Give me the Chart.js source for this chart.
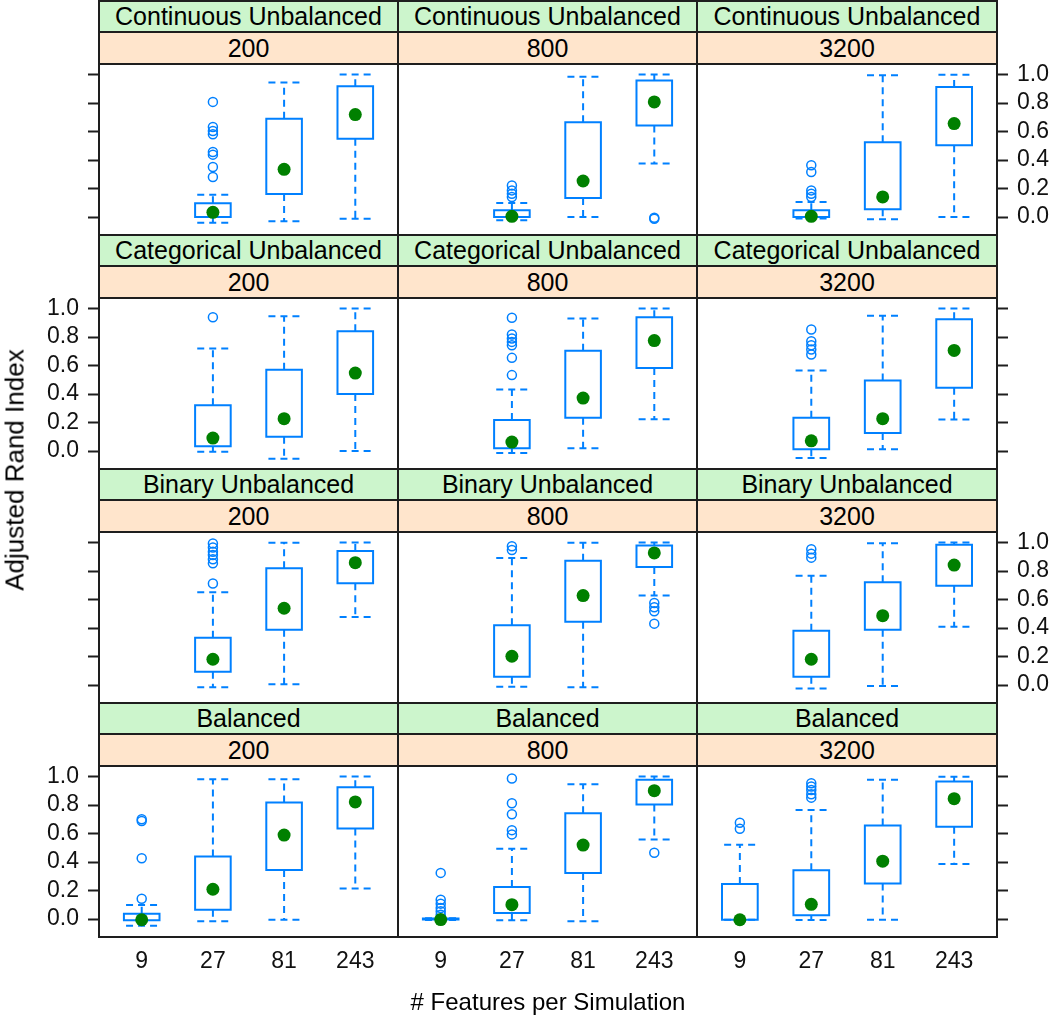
<!DOCTYPE html>
<html>
<head>
<meta charset="utf-8">
<script src="https://cdn.jsdelivr.net/npm/chart.js@4.4.0/dist/chart.umd.min.js"></script>
<style>
  body { margin: 0; background: #fff; width: 1050px; height: 1019px; overflow: hidden; position: relative;
         font-family: "Liberation Sans", Arial, sans-serif; }
  canvas.panel { position: absolute; left: 0; }
  .frame { position: absolute; box-sizing: border-box; border: 2px solid #1e1e1e; z-index: 2; }
  .strip { display: flex; align-items: center; justify-content: center; font-size: 25px; color: #000; z-index: 1; }
  .title { position: absolute; font-size: 24px; color: #000; white-space: nowrap; }
</style>
</head>
<body>
<script>
// --- DATI ---
const typeNames = ['Continuous Unbalanced', 'Categorical Unbalanced', 'Binary Unbalanced', 'Balanced'];
const sampleSizes = ['200', '800', '3200'];
const featureLabels = ['9', '27', '81', '243'];
const yTickValues = [0, 0.2, 0.4, 0.6, 0.8, 1.0];

// one row per panel (type x sample size, read row by row), one value per feature count
const whiskerLow = [
  [null, -0.040, -0.030, -0.012], [null, -0.023, 0.000, 0.375], [null, -0.010, -0.016, 0.000],
  [null, -0.005, -0.054, 0.000], [null, -0.014, 0.019, 0.224], [null, -0.049, 0.012, 0.222],
  [null, -0.016, 0.005, 0.478], [null, -0.012, -0.016, 0.628], [null, -0.024, -0.007, 0.409],
  [-0.047, -0.016, -0.005, 0.214], [-0.006, -0.009, -0.016, 0.559], [-0.005, -0.007, -0.005, 0.387]
];
const boxLow = [
  [null, 0.000, 0.162, 0.550], [null, 0.000, 0.133, 0.642], [null, 0.000, 0.054, 0.504],
  [null, 0.033, 0.100, 0.400], [null, 0.019, 0.234, 0.583], [null, 0.012, 0.126, 0.444],
  [null, 0.094, 0.388, 0.715], [null, 0.059, 0.445, 0.828], [null, 0.059, 0.388, 0.696],
  [-0.009, 0.066, 0.345, 0.636], [-0.003, 0.042, 0.324, 0.803], [-0.005, 0.026, 0.249, 0.648]
];
const medians = [
  [null, 0.033, 0.335, 0.719], [null, 0.005, 0.253, 0.808], [null, 0.005, 0.141, 0.656],
  [null, 0.091, 0.227, 0.547], [null, 0.063, 0.372, 0.775], [null, 0.072, 0.227, 0.706],
  [null, 0.181, 0.539, 0.859], [null, 0.202, 0.628, 0.927], [null, 0.181, 0.487, 0.842],
  [-0.005, 0.209, 0.589, 0.822], [-0.004, 0.101, 0.519, 0.901], [-0.005, 0.103, 0.406, 0.845]
];
const boxHigh = [
  [null, 0.096, 0.689, 0.918], [null, 0.047, 0.665, 0.958], [null, 0.047, 0.525, 0.913],
  [null, 0.322, 0.570, 0.841], [null, 0.217, 0.703, 0.939], [null, 0.234, 0.495, 0.925],
  [null, 0.332, 0.819, 0.941], [null, 0.419, 0.873, 0.979], [null, 0.381, 0.722, 0.984],
  [0.038, 0.439, 0.817, 0.925], [0.004, 0.225, 0.742, 0.977], [0.246, 0.343, 0.657, 0.965]
];
const whiskerHigh = [
  [null, 0.157, 0.944, 1.000], [null, 0.098, 0.984, 1.000], [null, 0.105, 0.995, 0.998],
  [null, 0.720, 0.946, 1.000], [null, 0.432, 0.930, 1.000], [null, 0.565, 0.949, 1.000],
  [null, 0.652, 0.998, 1.000], [null, 0.892, 0.998, 1.000], [null, 0.767, 0.995, 1.000],
  [0.099, 0.981, 0.981, 1.000], [0.006, 0.493, 0.946, 1.000], [0.521, 0.765, 0.977, 0.998]
];
const outliers = [
  [[], [0.808, 0.632, 0.604, 0.581, 0.457, 0.438, 0.351, 0.281], [], []],
  [[], [0.222, 0.187, 0.164, 0.141], [], [-0.005, -0.012]],
  [[], [0.363, 0.316, 0.187, 0.164, 0.141], [], []],
  [[], [0.939], [], []],
  [[], [0.935, 0.818, 0.790, 0.766, 0.743, 0.654, 0.533], [], []],
  [[], [0.853, 0.771, 0.743, 0.712, 0.677], [], []],
  [[], [0.993, 0.965, 0.936, 0.913, 0.882, 0.854, 0.713], [], []],
  [[], [0.974, 0.948], [], [0.576, 0.546, 0.518, 0.431]],
  [[], [0.953, 0.922, 0.894], [], []],
  [[0.700, 0.688, 0.427, 0.143], [], [], []],
  [[0.324, 0.136, 0.108, 0.077, 0.054, 0.031], [0.986, 0.812, 0.735, 0.624, 0.594], [], [0.465]],
  [[0.676, 0.634], [0.953, 0.930, 0.906, 0.876, 0.852], [], []]
];

// --- LAYOUT (pixel) ---
const BLUE = '#0080ff';
const GREEN = '#008000';
const PAGE_W = 1050;
const colLeft = [99, 398, 697];
const colRight = [398, 697, 997];
const ROW_TOP = 1, ROW_STEP = 234, STRIP_H = 31, PLOT_OFF = 63;
const BOTTOM_AXIS_H = 82;
const tickFont = { family: '"Liberation Sans", Arial, sans-serif', size: 23 };

function addDiv(cls, x0, y0, x1, y1, text, bg) {
  const d = document.createElement('div');
  d.className = cls;
  d.style.left = (x0 - 1) + 'px';
  d.style.top = (y0 - 1) + 'px';
  d.style.width = (x1 - x0 + 2) + 'px';
  d.style.height = (y1 - y0 + 2) + 'px';
  if (bg) d.style.background = bg;
  if (text) d.textContent = text;
  document.body.appendChild(d);
  return d;
}

// --- DATASET PER PANNELLO ---
function panelDatasets(p) {
  const boxPts = [], whiskPts = [], medPts = [], outPts = [];
  featureLabels.forEach((lab, k) => {
    if (medians[p][k] === null) return;
    const x = k + 1;
    const lo = whiskerLow[p][k], q1 = boxLow[p][k], q3 = boxHigh[p][k], hi = whiskerHigh[p][k];
    boxPts.push({ x: x - 0.25, y: q1 }, { x: x + 0.25, y: q1 }, { x: x + 0.25, y: q3 },
                { x: x - 0.25, y: q3 }, { x: x - 0.25, y: q1 }, { x: x, y: null });
    whiskPts.push({ x: x, y: q3 }, { x: x, y: hi }, { x: x, y: null },
                  { x: x, y: q1 }, { x: x, y: lo }, { x: x, y: null },
                  { x: x - 0.22, y: hi }, { x: x + 0.22, y: hi }, { x: x, y: null },
                  { x: x - 0.22, y: lo }, { x: x + 0.22, y: lo }, { x: x, y: null });
    medPts.push({ x: x, y: medians[p][k] });
    outliers[p][k].forEach(v => outPts.push({ x: x, y: v }));
  });
  return [
    { data: medPts, pointRadius: 6.5, pointBackgroundColor: GREEN, pointBorderColor: GREEN, pointBorderWidth: 0, order: 0 },
    { data: outPts, pointRadius: 4.5, pointBackgroundColor: 'rgba(0,0,0,0)', pointBorderColor: BLUE, pointBorderWidth: 1.5, order: 1 },
    { data: boxPts, showLine: true, pointRadius: 0, borderColor: BLUE, borderWidth: 2, borderJoinStyle: 'miter', borderCapStyle: 'square', order: 2 },
    { data: whiskPts, showLine: true, pointRadius: 0, borderColor: BLUE, borderWidth: 2, borderDash: [7, 5], order: 3 }
  ];
}

function yAxis(position, showTicks, showLabels, width) {
  return {
    type: 'linear', position: position, min: -0.126, max: 1.074,
    afterBuildTicks: s => { s.ticks = yTickValues.map(v => ({ value: v })); },
    ticks: { display: showLabels, autoSkip: false, callback: v => v.toFixed(1), font: tickFont, color: '#111', padding: 9 },
    grid: { display: showTicks, drawOnChartArea: false, drawTicks: true, tickLength: 11, tickWidth: 2, tickColor: '#1e1e1e' },
    border: { display: false },
    afterFit: s => { s.width = width; s.paddingTop = 0; s.paddingBottom = 0; }
  };
}

// --- DISEGNO ---
typeNames.forEach((typeName, r) => {
  const rowTop = ROW_TOP + r * ROW_STEP;
  const plotTop = rowTop + PLOT_OFF;
  const plotBottom = rowTop + ROW_STEP;
  const isBottom = r === typeNames.length - 1;

  sampleSizes.forEach((size, c) => {
    const p = r * sampleSizes.length + c;
    addDiv('frame strip', colLeft[c], rowTop, colRight[c], rowTop + STRIP_H, typeName, '#ccf5cc');
    addDiv('frame strip', colLeft[c], rowTop + STRIP_H, colRight[c], plotTop, size, '#ffe5cc');
    addDiv('frame', colLeft[c], plotTop, colRight[c], plotBottom);

    const canvas = document.createElement('canvas');
    canvas.className = 'panel';
    canvas.width = PAGE_W;
    canvas.height = (plotBottom - plotTop) + (isBottom ? BOTTOM_AXIS_H : 0);
    canvas.style.top = plotTop + 'px';
    document.body.appendChild(canvas);

    new Chart(canvas.getContext('2d'), {
      type: 'scatter',
      data: { datasets: panelDatasets(p) },
      options: {
        responsive: false, animation: false, devicePixelRatio: 1, events: [],
        layout: { padding: 0, autoPadding: false },
        plugins: { legend: { display: false }, tooltip: { enabled: false } },
        scales: {
          x: {
            type: 'linear', min: 0.4, max: 4.6, display: isBottom,
            afterBuildTicks: s => { s.ticks = featureLabels.map((l, i) => ({ value: i + 1 })); },
            ticks: { callback: v => featureLabels[v - 1], font: tickFont, color: '#111', padding: 11, maxRotation: 0, autoSkip: false },
            grid: { display: false, drawTicks: false },
            border: { display: false },
            afterFit: s => { s.height = isBottom ? BOTTOM_AXIS_H : 0; s.paddingLeft = 0; s.paddingRight = 0; }
          },
          y: yAxis('left', c === 0, c === 0 && r % 2 === 1, colLeft[c]),
          y2: yAxis('right', c === 2, c === 2 && r % 2 === 0, PAGE_W - colRight[c])
        }
      }
    });
  });
});

// titoli degli assi
const yTitle = document.createElement('div');
yTitle.className = 'title';
yTitle.textContent = 'Adjusted Rand Index';
yTitle.style.fontSize = '26px';
yTitle.style.left = '15px';
yTitle.style.top = '470px';
yTitle.style.transform = 'translate(-50%, -50%) rotate(-90deg)';
document.body.appendChild(yTitle);

const xTitle = document.createElement('div');
xTitle.className = 'title';
xTitle.textContent = '# Features per Simulation';
xTitle.style.left = '548px';
xTitle.style.top = '1002px';
xTitle.style.transform = 'translate(-50%, -50%)';
document.body.appendChild(xTitle);
</script>
</body>
</html>
